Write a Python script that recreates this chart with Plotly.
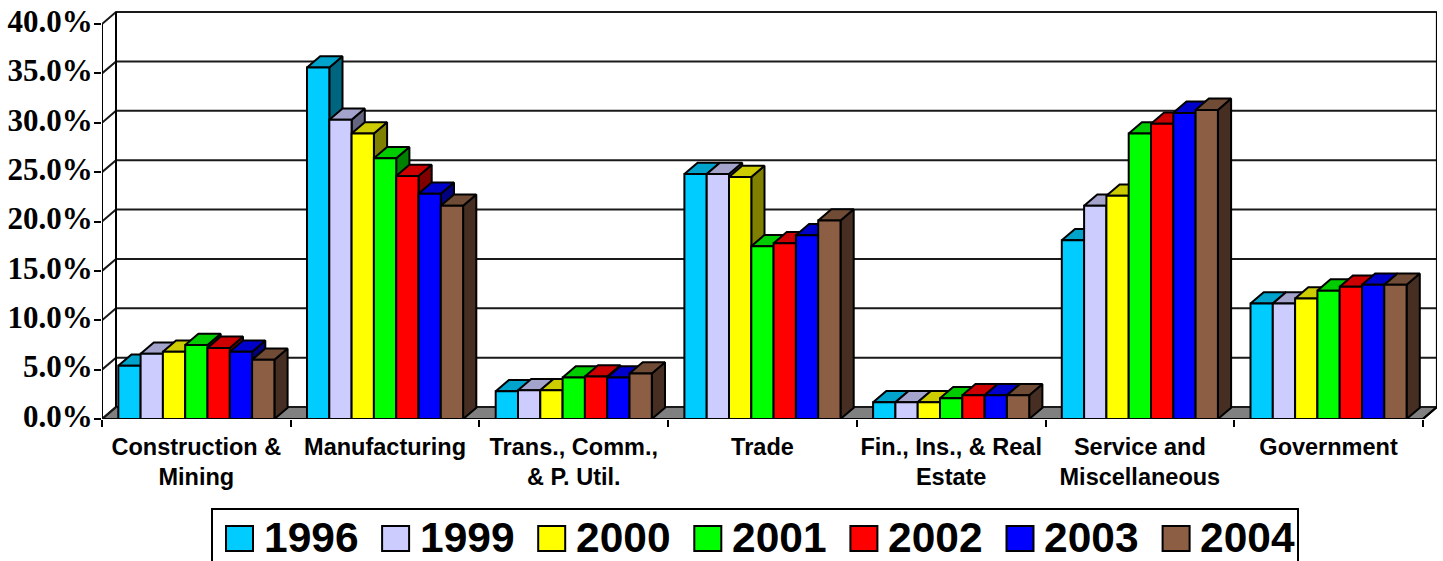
import plotly.graph_objects as go

categories = ["Construction &<br>Mining", "Manufacturing", "Trans., Comm.,<br>& P. Util.", "Trade",
              "Fin., Ins., & Real<br>Estate", "Service and<br>Miscellaneous", "Government"]
years = ["1996", "1999", "2000", "2001", "2002", "2003", "2004"]
v1996 = [5.4, 35.6, 2.8, 24.8, 1.7, 18.1, 11.7]
v1999 = [6.6, 30.3, 2.9, 24.8, 1.7, 21.6, 11.7]
v2000 = [6.8, 28.9, 2.9, 24.5, 1.7, 22.6, 12.2]
v2001 = [7.5, 26.4, 4.2, 17.5, 2.1, 28.9, 13.0]
v2002 = [7.2, 24.6, 4.3, 17.8, 2.4, 29.9, 13.4]
v2003 = [6.8, 22.8, 4.2, 18.6, 2.4, 31.0, 13.6]
v2004 = [6.0, 21.6, 4.6, 20.1, 2.4, 31.3, 13.6]
series = [v1996, v1999, v2000, v2001, v2002, v2003, v2004]
y_ticks = [0, 5, 10, 15, 20, 25, 30, 35, 40]
y_labels = ["0.0%", "5.0%", "10.0%", "15.0%", "20.0%", "25.0%", "30.0%", "35.0%", "40.0%"]

front = ["#00CCFF", "#CCCCFF", "#FFFF00", "#00FF00", "#FF0000", "#0000FF", "#8C5F44"]
top = ["#00A3CC", "#A3A3CC", "#CCCC00", "#00CC00", "#CC0000", "#0000CC", "#704C36"]
side = ["#006680", "#666680", "#808000", "#008000", "#800000", "#000080", "#462F22"]

# pixel geometry of the plot
L, R, T, B = 102, 1437, 11, 419
PX_X = 188.7
PX_Y = 9.875
DX = 14 / PX_X
DY = 12 / PX_Y
BDX = 13.2 / PX_X
BDY = 11.3 / PX_Y
GAP = 16.3 / PX_X
BW = (1 - 2 * GAP) / 7
NC = len(categories)
XMAX = (R - L) / PX_X
YMAX = (B - T) / PX_Y
INK = "#000000"
GRID = "#1a1a1a"

fig = go.Figure()

def poly(xs, ys, fill=None, width=2, color=INK):
    fig.add_trace(go.Scatter(
        x=xs, y=ys, mode="lines", line=dict(color=color, width=width),
        fill="toself" if fill else None, fillcolor=fill,
        showlegend=False, hoverinfo="skip", cliponaxis=False))

# floor
poly([0, DX, NC + DX, NC, 0], [0, DY, DY, 0, 0], fill="#808080")
# back wall gridlines with diagonal to the front axis
for v in y_ticks:
    poly([0, DX, NC + DX], [v, v + DY, v + DY], color=GRID)
# wall verticals
poly([DX, DX], [DY, 40 + DY])
poly([NC + DX, NC + DX], [DY, 40 + DY])
poly([0, 0], [0, 40])
poly([0, NC], [0, 0])
poly([NC, NC + DX], [0, DY])

# bars, painted left to right so each front hides its neighbour's side
for s, vals in enumerate(series):
    fx, fy, tx, ty, sx, sy = [], [], [], [], [], []
    for c, v in enumerate(vals):
        x0 = c + GAP + s * BW
        x1 = x0 + BW
        fx += [x0, x1, x1, x0, x0, None]
        fy += [0, 0, v, v, 0, None]
        tx += [x0, x1, x1 + BDX, x0 + BDX, x0, None]
        ty += [v, v, v + BDY, v + BDY, v, None]
        sx += [x1, x1 + BDX, x1 + BDX, x1, x1, None]
        sy += [0, BDY, v + BDY, v, 0, None]
    poly(sx, sy, fill=side[s])
    poly(tx, ty, fill=top[s])
    poly(fx, fy, fill=front[s])

def xp(px):
    return (px - L) / (R - L)

def yp(py):
    return (B - py) / (B - T)

# legend
shapes = [dict(type="rect", xref="paper", yref="paper", x0=xp(212), x1=xp(1298), y0=yp(600), y1=yp(509),
               line=dict(color="black", width=2), fillcolor="white", layer="below")]
annotations = []
for i, yr in enumerate(years):
    sx0 = 226 + 156.1 * i
    shapes.append(dict(type="rect", xref="paper", yref="paper", x0=xp(sx0), x1=xp(sx0 + 27),
                       y0=yp(551), y1=yp(526), line=dict(color="black", width=2), fillcolor=front[i]))
    annotations.append(dict(text=yr, xref="paper", yref="paper", x=xp(sx0 + 37.5), y=yp(537),
                            xanchor="left", yanchor="middle", showarrow=False, xshift=-2,
                            font=dict(family="Liberation Sans", size=42.5, color="black", weight="bold")))

fig.update_layout(
    width=1443, height=561, autosize=False,
    margin=dict(l=L, r=1443 - R, t=T, b=561 - B, pad=0, autoexpand=False),
    paper_bgcolor="white", plot_bgcolor="white",
    showlegend=False, shapes=shapes, annotations=annotations,
    xaxis=dict(
        range=[0, XMAX], showgrid=False, zeroline=False, showline=False, automargin=False,
        tickmode="array", tickvals=[i + 0.5 for i in range(NC)], ticktext=categories,
        ticks="", ticklabelstandoff=11, tickangle=0,
        tickfont=dict(family="Liberation Sans", size=23.5, color="black", weight="bold"),
        minor=dict(tickmode="array", tickvals=list(range(NC + 1)), ticks="outside",
                   ticklen=7, tickwidth=2, tickcolor="black", showgrid=False),
    ),
    yaxis=dict(
        range=[0, YMAX], showgrid=False, zeroline=False, showline=False, automargin=False,
        tickmode="array", tickvals=y_ticks, ticktext=y_labels,
        ticks="outside", ticklen=7, tickwidth=2, tickcolor="black",
        ticklabelstandoff=-5, ticklabelshift=-3,
        tickfont=dict(family="Liberation Serif", size=31, color="black", weight="bold"),
    ),
)

fig.write_html("out.html", config=dict(displayModeBar=False),
               post_script="document.body.style.margin='0';document.body.style.overflow='hidden';")
